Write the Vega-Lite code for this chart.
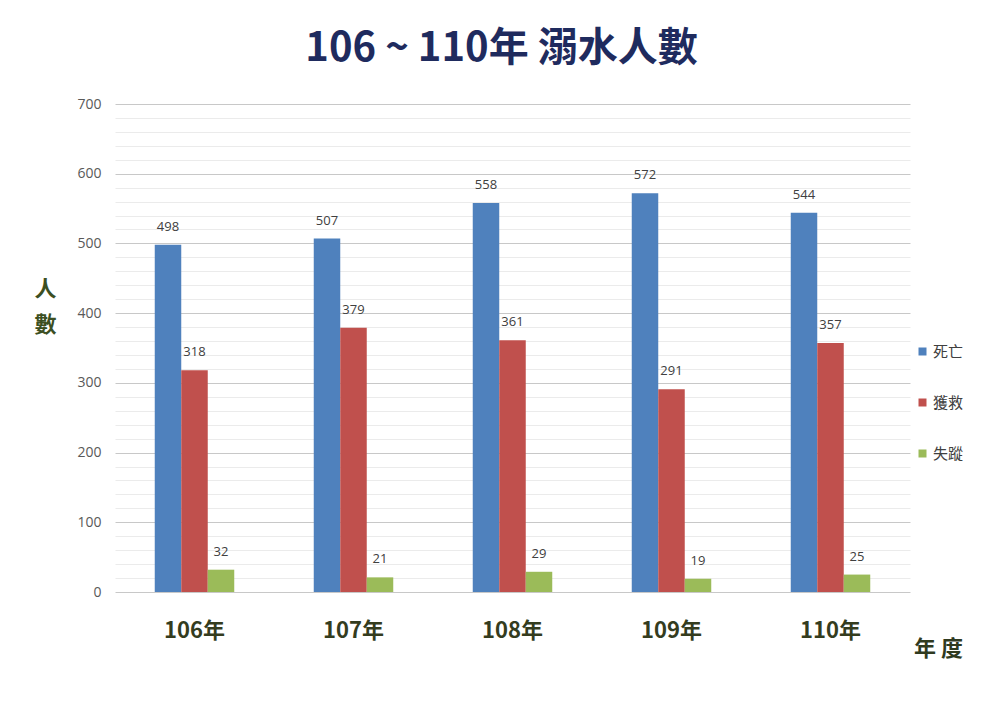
{
  "$schema": "https://vega.github.io/schema/vega-lite/v6.json",
  "width": 795,
  "height": 488,
  "autosize": {"type": "none"},
  "padding": {"left": 115, "top": 104, "right": 90, "bottom": 127},
  "background": "white",
  "config": {"view": {"stroke": null}},
  "title": {
    "text": "106 ~ 110年 溺水人數",
    "font": "Noto Sans CJK TC",
    "fontSize": 40,
    "fontWeight": "bold",
    "color": "#1f2b5e",
    "anchor": "middle",
    "dx": -11,
    "offset": 28
  },
  "data": {
    "values": [
      {"year": "106年", "type": "死亡", "value": 498},
      {"year": "106年", "type": "獲救", "value": 318},
      {"year": "106年", "type": "失蹤", "value": 32},
      {"year": "107年", "type": "死亡", "value": 507},
      {"year": "107年", "type": "獲救", "value": 379},
      {"year": "107年", "type": "失蹤", "value": 21},
      {"year": "108年", "type": "死亡", "value": 558},
      {"year": "108年", "type": "獲救", "value": 361},
      {"year": "108年", "type": "失蹤", "value": 29},
      {"year": "109年", "type": "死亡", "value": 572},
      {"year": "109年", "type": "獲救", "value": 291},
      {"year": "109年", "type": "失蹤", "value": 19},
      {"year": "110年", "type": "死亡", "value": 544},
      {"year": "110年", "type": "獲救", "value": 357},
      {"year": "110年", "type": "失蹤", "value": 25}
    ]
  },
  "encoding": {
    "x": {
      "field": "year",
      "type": "nominal",
      "sort": null,
      "scale": {"paddingInner": 0.5, "paddingOuter": 0.25},
      "axis": {
        "title": "年 度",
        "titleX": 823,
        "titleY": 56,
        "titleAlign": "center",
        "titleBaseline": "middle",
        "titleFont": "Noto Sans CJK TC",
        "titleFontSize": 22,
        "titleFontWeight": "bold",
        "titleColor": "#2f3a1f",
        "labelAngle": 0,
        "labelFont": "Noto Sans CJK TC",
        "labelFontSize": 22,
        "labelFontWeight": "bold",
        "labelColor": "#343c1e",
        "labelPadding": 28,
        "domain": false,
        "ticks": false,
        "grid": false
      }
    },
    "xOffset": {"field": "type", "type": "nominal", "sort": ["死亡", "獲救", "失蹤"]},
    "y": {
      "field": "value",
      "type": "quantitative",
      "scale": {"domain": [0, 700]},
      "axis": {
        "values": [0,20,40,60,80,100,120,140,160,180,200,220,240,260,280,300,320,340,360,380,400,420,440,460,480,500,520,540,560,580,600,620,640,660,680,700],
        "labelExpr": "datum.value % 100 === 0 ? datum.label : ''",
        "gridColor": {"condition": {"test": "datum.value % 100 === 0", "value": "#c8c8c8"}, "value": "#ebebeb"},
        "gridWidth": 1,
        "domain": false,
        "ticks": false,
        "labelFont": "Open Sans",
        "labelFontSize": 14,
        "labelColor": "#595959",
        "labelPadding": 14,
        "title": ["人", "數"],
        "titleAngle": 0,
        "titleX": -70,
        "titleY": 174,
        "titleAlign": "center",
        "titleBaseline": "top",
        "titleLineHeight": 36,
        "titleFont": "Noto Sans CJK TC",
        "titleFontSize": 22,
        "titleFontWeight": "bold",
        "titleColor": "#3c4f22"
      }
    },
    "color": {
      "field": "type",
      "type": "nominal",
      "sort": ["死亡", "獲救", "失蹤"],
      "scale": {"domain": ["死亡", "獲救", "失蹤"], "range": ["#4f81bd", "#c0504d", "#9bbb59"]},
      "legend": {
        "title": null,
        "orient": "none",
        "legendX": 800,
        "legendY": 240,
        "symbolType": "square",
        "symbolSize": 64,
        "symbolStrokeWidth": 0,
        "labelFont": "Noto Sans CJK TC",
        "labelFontSize": 15,
        "labelColor": "#404040",
        "labelOffset": 3,
        "rowPadding": 35
      }
    }
  },
  "layer": [
    {"mark": {"type": "bar"}},
    {
      "mark": {"type": "text", "dy": -18, "baseline": "middle", "font": "Open Sans", "fontSize": 13, "color": "#404040"},
      "encoding": {"text": {"field": "value", "type": "quantitative"}, "color": {"value": "#404040"}}
    }
  ]
}
